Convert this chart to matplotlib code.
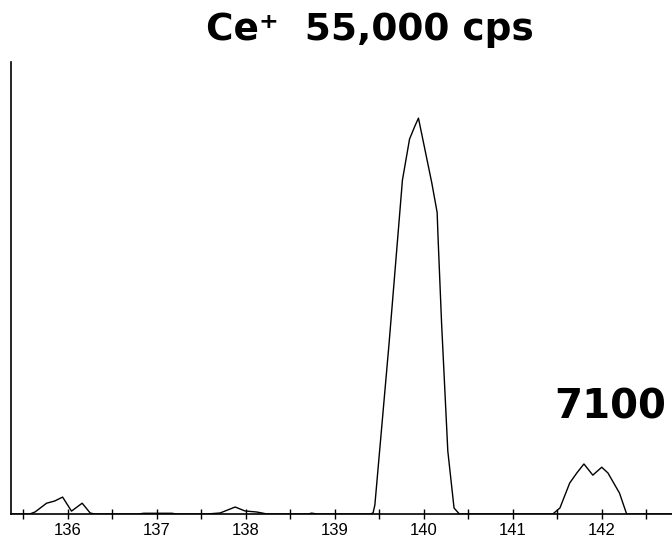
import numpy as np
import matplotlib
matplotlib.use("Agg")
import matplotlib.pyplot as plt
from matplotlib.ticker import MultipleLocator

# mass spectrum (amu vs counts per second)
mass = [135.36, 135.57, 135.63, 135.76, 135.85, 135.94, 136.04, 136.16, 136.25, 136.30,
        136.79, 136.85, 137.17, 137.22,
        137.56, 137.71, 137.88, 137.99, 138.12, 138.24,
        138.70, 138.74, 138.80,
        139.40, 139.43, 139.45, 139.61, 139.76, 139.84, 139.90, 139.94,
        140.01, 140.09, 140.15, 140.16, 140.20, 140.27, 140.34, 140.40,
        141.45, 141.53, 141.64, 141.72, 141.80, 141.90, 142.00, 142.07, 142.20, 142.28,
        142.79]
cps = [0, 0, 280, 1500, 1800, 2350, 400, 1500, 140, 0,
       0, 100, 100, 0,
       0, 140, 970, 420, 280, 0,
       0, 120, 0,
       0, 150, 1250, 23750, 46400, 52100, 53900, 55000,
       50800, 46000, 41900, 38500, 26500, 8750, 830, 0,
       0, 830, 4300, 5700, 6950, 5400, 6500, 5700, 2900, 0,
       0]

tick_pos = [136, 137, 138, 139, 140, 141, 142]
tick_labels = ["136", "137", "138", "139", "140", "141", "142"]

plt.rcParams['font.family'] = ['Liberation Sans', 'DejaVu Sans']

fig = plt.figure(figsize=(6.72, 5.46), dpi=100)
ax = fig.add_axes([11 / 672, 32 / 546, 1 - 11 / 672, 452 / 546])

ax.plot(mass, cps, color='black', lw=1.0)

ax.set_xlim(135.36, 142.79)
ax.set_ylim(0, 62800)

ax.spines['top'].set_visible(False)
ax.spines['right'].set_visible(False)
ax.spines['left'].set_linewidth(1.2)
ax.spines['bottom'].set_linewidth(1.2)

ax.set_yticks([])
ax.set_xticks(tick_pos)
ax.set_xticklabels(tick_labels)
ax.xaxis.set_minor_locator(MultipleLocator(0.5))
ax.tick_params(axis='x', which='both', direction='inout', length=7, width=1.0,
               labelsize=12, pad=3)

fig.text(0.55, 0.945, "Ce\u207a  55,000 cps", ha='center', va='center',
         fontsize=27, fontweight='bold', family='DejaVu Sans')
fig.text(0.908, 0.253, "7100", ha='center', va='center',
         fontsize=29, fontweight='bold', family='DejaVu Sans')

fig.savefig("out.png", dpi=100)
